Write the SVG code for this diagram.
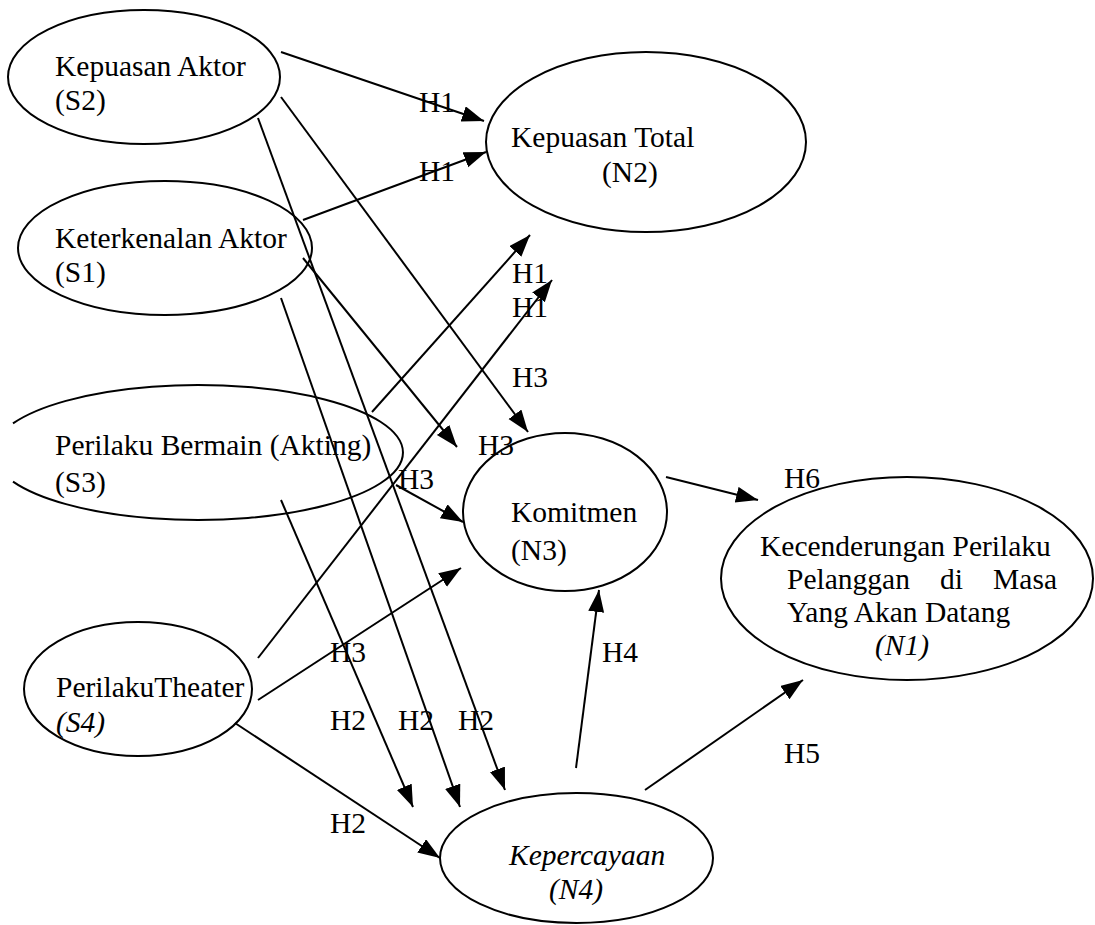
<svg xmlns="http://www.w3.org/2000/svg" width="1095" height="925" viewBox="0 0 1095 925">
<style>
.n{fill:none;stroke:#000;stroke-width:2}
.t{font-family:"Liberation Serif","Times New Roman",serif;font-size:29.5px;fill:#000}
.i{font-style:italic}
.c line{stroke:#000;stroke-width:2;marker-end:url(#ah)}
</style>
<defs>
<marker id="ah" markerUnits="userSpaceOnUse" markerWidth="24" markerHeight="18" refX="22" refY="8" orient="auto">
<path d="M0,0 L22,8 L0,16 z" fill="#000"/>
</marker>
</defs>
<rect width="1095" height="925" fill="#fff"/>
<g id="S2"><ellipse class="n" cx="144" cy="77" rx="136" ry="67"/><text class="t" x="55" y="76">Kepuasan Aktor</text><text class="t" x="55" y="110">(S2)</text></g>
<g id="S1"><ellipse class="n" cx="165" cy="248" rx="147" ry="67"/><text class="t" x="55" y="248">Keterkenalan Aktor</text><text class="t" x="55" y="282">(S1)</text></g>
<g id="N2"><ellipse class="n" cx="646" cy="142" rx="160" ry="90"/><text class="t" x="511" y="147">Kepuasan Total</text><text class="t" x="602" y="182">(N2)</text></g>
<g id="S3"><path class="n" d="M13,423.4 A205,67.5 0 1 1 13,481.6"/><text class="t" x="55" y="455">Perilaku Bermain (Akting)</text><text class="t" x="55" y="492">(S3)</text></g>
<g id="N3"><ellipse class="n" cx="565" cy="512" rx="102" ry="79"/><text class="t" x="511" y="522">Komitmen</text><text class="t" x="511" y="560">(N3)</text></g>
<g id="N1"><ellipse class="n" cx="907" cy="578.5" rx="186" ry="101.5"/><text class="t" x="760" y="556">Kecenderungan Perilaku</text><text class="t" x="787" y="589">Pelanggan</text><text class="t" x="940" y="589">di</text><text class="t" x="1057" y="589" text-anchor="end">Masa</text><text class="t" x="787" y="622">Yang Akan Datang</text><text class="t i" x="875" y="655">(N1)</text></g>
<g id="S4"><ellipse class="n" cx="138" cy="689" rx="114" ry="67"/><text class="t" x="56" y="697">PerilakuTheater</text><text class="t i" x="56" y="732">(S4)</text></g>
<g id="N4"><ellipse class="n" cx="576.5" cy="858" rx="136.5" ry="65"/><text class="t i" x="509" y="865">Kepercayaan</text><text class="t i" x="549" y="899">(N4)</text></g>
<g id="connectors" class="c">
<line x1="281" y1="52" x2="484" y2="121"/>
<line x1="303" y1="220" x2="486" y2="152"/>
<line x1="281" y1="97" x2="528" y2="432"/>
<line x1="258" y1="118" x2="505" y2="790"/>
<line x1="303" y1="258" x2="457" y2="447"/>
<line x1="281" y1="298" x2="460" y2="807"/>
<line x1="372" y1="412" x2="530" y2="235"/>
<line x1="396" y1="485" x2="463" y2="522"/>
<line x1="281" y1="500" x2="413" y2="807"/>
<line x1="258" y1="658" x2="552" y2="280"/>
<line x1="258" y1="700" x2="461" y2="568"/>
<line x1="235" y1="723" x2="440" y2="858"/>
<line x1="666" y1="477" x2="758" y2="500"/>
<line x1="576" y1="768" x2="599" y2="590"/>
<line x1="645" y1="790" x2="803" y2="680"/>
</g>
<g id="labels">
<text class="t" x="419" y="112">H1</text>
<text class="t" x="419" y="181">H1</text>
<text class="t" x="512" y="283">H1</text>
<text class="t" x="512" y="317">H1</text>
<text class="t" x="512" y="387">H3</text>
<text class="t" x="478" y="455">H3</text>
<text class="t" x="398" y="489">H3</text>
<text class="t" x="330" y="662">H3</text>
<text class="t" x="330" y="730">H2</text>
<text class="t" x="398" y="730">H2</text>
<text class="t" x="458" y="730">H2</text>
<text class="t" x="330" y="833">H2</text>
<text class="t" x="784" y="488">H6</text>
<text class="t" x="602" y="662">H4</text>
<text class="t" x="784" y="763">H5</text>
</g>
</svg>
